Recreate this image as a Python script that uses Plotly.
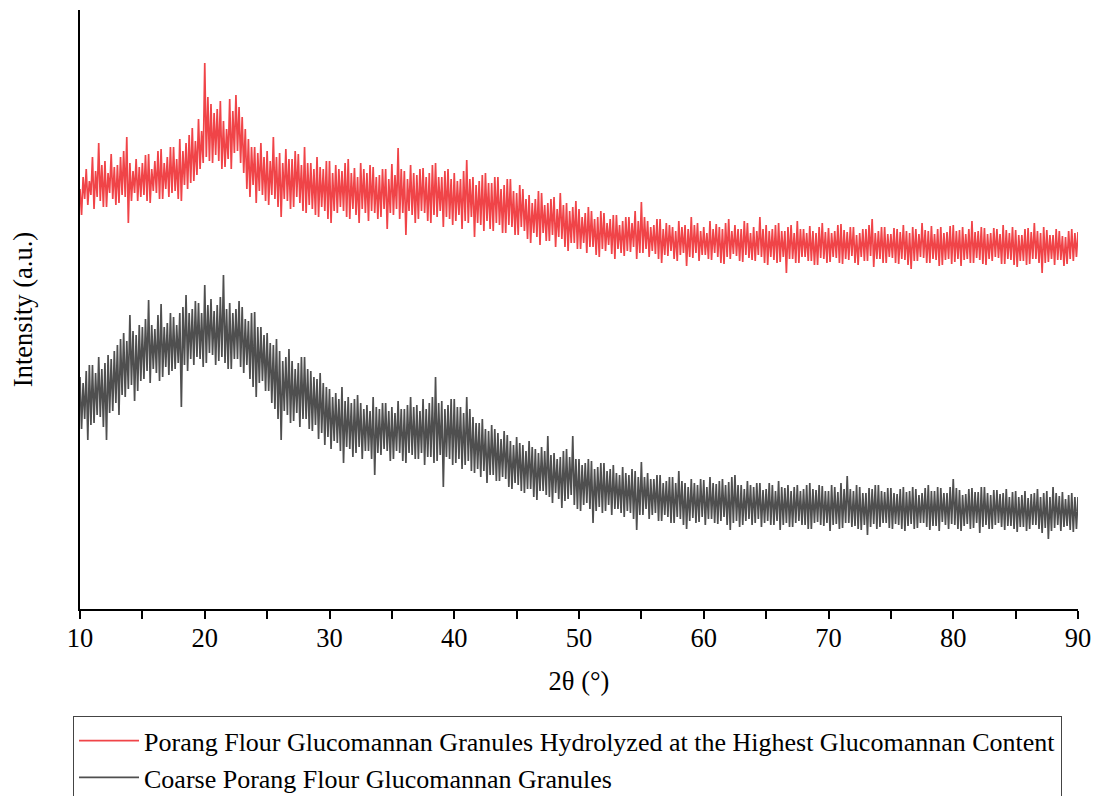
import plotly.graph_objects as go

# 2θ sampling grid (degrees), one reading bin every 0.25°
two_theta = [
    10.0, 10.25, 10.5, 10.75, 11.0, 11.25, 11.5, 11.75, 12.0, 12.25, 12.5, 12.75, 13.0, 13.25, 13.5, 13.75, 14.0, 14.25, 14.5, 14.75,
    15.0, 15.25, 15.5, 15.75, 16.0, 16.25, 16.5, 16.75, 17.0, 17.25, 17.5, 17.75, 18.0, 18.25, 18.5, 18.75, 19.0, 19.25, 19.5, 19.75,
    20.0, 20.25, 20.5, 20.75, 21.0, 21.25, 21.5, 21.75, 22.0, 22.25, 22.5, 22.75, 23.0, 23.25, 23.5, 23.75, 24.0, 24.25, 24.5, 24.75,
    25.0, 25.25, 25.5, 25.75, 26.0, 26.25, 26.5, 26.75, 27.0, 27.25, 27.5, 27.75, 28.0, 28.25, 28.5, 28.75, 29.0, 29.25, 29.5, 29.75,
    30.0, 30.25, 30.5, 30.75, 31.0, 31.25, 31.5, 31.75, 32.0, 32.25, 32.5, 32.75, 33.0, 33.25, 33.5, 33.75, 34.0, 34.25, 34.5, 34.75,
    35.0, 35.25, 35.5, 35.75, 36.0, 36.25, 36.5, 36.75, 37.0, 37.25, 37.5, 37.75, 38.0, 38.25, 38.5, 38.75, 39.0, 39.25, 39.5, 39.75,
    40.0, 40.25, 40.5, 40.75, 41.0, 41.25, 41.5, 41.75, 42.0, 42.25, 42.5, 42.75, 43.0, 43.25, 43.5, 43.75, 44.0, 44.25, 44.5, 44.75,
    45.0, 45.25, 45.5, 45.75, 46.0, 46.25, 46.5, 46.75, 47.0, 47.25, 47.5, 47.75, 48.0, 48.25, 48.5, 48.75, 49.0, 49.25, 49.5, 49.75,
    50.0, 50.25, 50.5, 50.75, 51.0, 51.25, 51.5, 51.75, 52.0, 52.25, 52.5, 52.75, 53.0, 53.25, 53.5, 53.75, 54.0, 54.25, 54.5, 54.75,
    55.0, 55.25, 55.5, 55.75, 56.0, 56.25, 56.5, 56.75, 57.0, 57.25, 57.5, 57.75, 58.0, 58.25, 58.5, 58.75, 59.0, 59.25, 59.5, 59.75,
    60.0, 60.25, 60.5, 60.75, 61.0, 61.25, 61.5, 61.75, 62.0, 62.25, 62.5, 62.75, 63.0, 63.25, 63.5, 63.75, 64.0, 64.25, 64.5, 64.75,
    65.0, 65.25, 65.5, 65.75, 66.0, 66.25, 66.5, 66.75, 67.0, 67.25, 67.5, 67.75, 68.0, 68.25, 68.5, 68.75, 69.0, 69.25, 69.5, 69.75,
    70.0, 70.25, 70.5, 70.75, 71.0, 71.25, 71.5, 71.75, 72.0, 72.25, 72.5, 72.75, 73.0, 73.25, 73.5, 73.75, 74.0, 74.25, 74.5, 74.75,
    75.0, 75.25, 75.5, 75.75, 76.0, 76.25, 76.5, 76.75, 77.0, 77.25, 77.5, 77.75, 78.0, 78.25, 78.5, 78.75, 79.0, 79.25, 79.5, 79.75,
    80.0, 80.25, 80.5, 80.75, 81.0, 81.25, 81.5, 81.75, 82.0, 82.25, 82.5, 82.75, 83.0, 83.25, 83.5, 83.75, 84.0, 84.25, 84.5, 84.75,
    85.0, 85.25, 85.5, 85.75, 86.0, 86.25, 86.5, 86.75, 87.0, 87.25, 87.5, 87.75, 88.0, 88.25, 88.5, 88.75, 89.0, 89.25, 89.5, 89.75,
    90.0,
]

# Hydrolyzed sample (red): per-bin upper / lower readings of the noisy pattern (a.u.)
hydro_hi = [
    420, 432, 440, 428, 452, 438, 466, 444, 448, 436, 455, 442, 444, 452, 458, 472, 446, 438, 450, 442,
    446, 454, 455, 440, 448, 458, 460, 446, 452, 462, 462, 450, 470, 458, 466, 474, 481, 468, 490, 478,
    546, 512, 505, 496, 500, 508, 488, 480, 510, 498, 514, 502, 492, 480, 470, 462, 462, 456, 466, 452,
    458, 448, 472, 452, 456, 446, 460, 450, 450, 458, 455, 444, 462, 446, 446, 440, 452, 442, 440, 448,
    448, 436, 444, 440, 438, 446, 450, 436, 441, 432, 446, 440, 436, 444, 442, 432, 434, 440, 440, 430,
    445, 434, 461, 440, 438, 430, 444, 436, 434, 440, 441, 432, 436, 444, 446, 432, 432, 438, 440, 430,
    436, 428, 430, 438, 449, 430, 432, 424, 428, 434, 436, 426, 426, 432, 432, 420, 424, 430, 430, 418,
    416, 424, 420, 410, 414, 406, 410, 418, 416, 404, 406, 410, 412, 400, 416, 404, 406, 398, 402, 408,
    400, 392, 396, 402, 398, 390, 392, 398, 396, 386, 390, 394, 394, 384, 388, 392, 392, 386, 398, 388,
    407, 392, 388, 382, 384, 390, 390, 380, 386, 384, 382, 378, 388, 382, 384, 380, 392, 384, 386, 378,
    382, 376, 388, 380, 385, 382, 380, 386, 390, 378, 384, 380, 380, 388, 386, 376, 382, 378, 392, 380,
    384, 378, 380, 384, 386, 378, 378, 382, 384, 376, 388, 380, 380, 376, 383, 378, 376, 382, 386, 377,
    381, 376, 378, 384, 385, 379, 377, 382, 382, 374, 376, 380, 380, 384, 390, 376, 378, 382, 382, 375,
    375, 381, 380, 377, 384, 378, 376, 382, 380, 375, 386, 379, 378, 383, 375, 380, 382, 376, 377, 383,
    384, 378, 379, 382, 375, 380, 388, 377, 378, 382, 381, 375, 376, 381, 380, 375, 384, 379, 376, 382,
    379, 374, 374, 380, 381, 377, 386, 378, 376, 382, 379, 374, 374, 380, 378, 373, 372, 378, 380, 376,
    377,
]
hydro_lo = [
    394, 410, 404, 414, 400, 412, 408, 402, 402, 416, 410, 404, 406, 414, 412, 386, 408, 416, 408, 412,
    414, 408, 406, 418, 416, 410, 410, 420, 412, 416, 418, 410, 408, 424, 420, 426, 428, 434, 440, 446,
    452, 448, 446, 454, 448, 440, 442, 450, 440, 456, 458, 446, 436, 420, 412, 424, 406, 418, 414, 408,
    404, 414, 410, 402, 392, 410, 408, 400, 402, 412, 406, 398, 396, 404, 400, 394, 392, 402, 398, 390,
    386, 398, 396, 402, 398, 392, 390, 400, 394, 386, 400, 396, 388, 398, 396, 390, 392, 400, 380, 396,
    394, 400, 390, 396, 374, 398, 394, 386, 390, 398, 396, 388, 386, 394, 392, 398, 382, 392, 390, 384,
    388, 394, 380, 388, 386, 392, 372, 386, 384, 378, 388, 380, 378, 386, 384, 376, 376, 384, 382, 374,
    374, 382, 378, 370, 366, 376, 372, 364, 376, 368, 368, 374, 362, 372, 370, 362, 358, 366, 366, 360,
    360, 366, 356, 362, 362, 354, 352, 360, 358, 364, 355, 350, 360, 356, 353, 358, 357, 362, 350, 356,
    356, 360, 352, 358, 355, 350, 346, 354, 353, 358, 350, 348, 354, 356, 343, 352, 351, 356, 348, 354,
    354, 350, 349, 356, 352, 346, 345, 352, 350, 355, 353, 348, 347, 354, 351, 349, 348, 354, 352, 346,
    344, 352, 349, 346, 347, 352, 336, 350, 350, 346, 346, 352, 352, 348, 348, 344, 344, 351, 350, 346,
    347, 352, 351, 346, 345, 350, 349, 353, 346, 344, 352, 348, 348, 353, 342, 350, 350, 346, 346, 352,
    351, 346, 345, 350, 349, 344, 340, 348, 348, 352, 351, 346, 346, 350, 349, 343, 344, 349, 350, 345,
    347, 350, 343, 349, 350, 346, 346, 351, 349, 345, 344, 350, 348, 352, 351, 345, 345, 350, 349, 344,
    342, 348, 348, 344, 345, 350, 350, 346, 336, 346, 347, 350, 344, 349, 349, 343, 345, 350, 348, 352,
    356,
]

# Coarse sample (grey): per-bin upper / lower readings of the noisy pattern (a.u.)
coarse_hi = [
    232, 226, 238, 244, 244, 236, 252, 240, 246, 254, 250, 258, 264, 270, 276, 268, 294, 278, 274, 284,
    282, 290, 309, 284, 280, 294, 305, 282, 286, 296, 292, 284, 296, 302, 314, 296, 300, 308, 306, 296,
    324, 304, 310, 298, 304, 312, 334, 300, 306, 296, 300, 308, 302, 290, 288, 296, 297, 282, 282, 274,
    276, 266, 264, 270, 258, 248, 252, 260, 248, 240, 246, 252, 252, 240, 238, 232, 230, 236, 226, 222,
    220, 212, 216, 210, 222, 208, 212, 206, 210, 214, 206, 200, 204, 198, 212, 202, 200, 206, 206, 198,
    202, 196, 208, 200, 200, 204, 212, 202, 204, 198, 210, 200, 206, 212, 232, 206, 208, 200, 204, 210,
    210, 202, 202, 196, 212, 200, 192, 186, 186, 190, 180, 178, 184, 180, 176, 170, 178, 174, 168, 164,
    172, 166, 164, 158, 168, 162, 160, 156, 162, 158, 173, 154, 156, 150, 152, 158, 160, 152, 173, 150,
    150, 144, 146, 150, 148, 140, 142, 146, 146, 138, 140, 144, 136, 134, 142, 136, 134, 140, 138, 132,
    147, 132, 136, 130, 130, 134, 134, 126, 128, 132, 132, 126, 138, 128, 126, 122, 130, 126, 124, 130,
    129, 122, 132, 126, 125, 128, 130, 124, 127, 132, 134, 124, 124, 120, 128, 124, 122, 126, 126, 119,
    120, 126, 124, 118, 128, 122, 121, 124, 118, 122, 124, 118, 120, 124, 126, 120, 119, 124, 123, 118,
    118, 124, 122, 117, 126, 120, 133, 120, 118, 124, 122, 116, 116, 121, 120, 124, 124, 118, 117, 121,
    121, 116, 115, 120, 122, 117, 118, 122, 120, 114, 116, 121, 124, 118, 118, 122, 121, 116, 116, 122,
    130, 121, 119, 114, 115, 120, 121, 117, 117, 122, 122, 116, 114, 119, 119, 115, 116, 120, 112, 117,
    118, 112, 114, 118, 111, 115, 116, 120, 112, 116, 118, 112, 122, 116, 113, 117, 110, 114, 116, 112,
    112,
]
coarse_lo = [
    180, 190, 169, 184, 186, 194, 192, 182, 169, 196, 198, 206, 194, 214, 212, 220, 224, 208, 218, 228,
    230, 238, 226, 240, 236, 228, 232, 242, 234, 238, 240, 246, 202, 244, 238, 250, 244, 252, 250, 242,
    246, 256, 254, 244, 248, 252, 246, 240, 240, 250, 250, 242, 236, 244, 230, 222, 212, 226, 228, 218,
    218, 206, 200, 190, 169, 198, 194, 186, 188, 196, 182, 190, 190, 180, 178, 184, 170, 176, 164, 172,
    160, 168, 166, 158, 146, 162, 160, 152, 156, 162, 150, 158, 158, 150, 134, 156, 154, 160, 158, 148,
    150, 158, 156, 148, 146, 156, 154, 150, 150, 156, 144, 152, 152, 146, 148, 154, 122, 152, 150, 144,
    146, 150, 140, 144, 148, 138, 136, 140, 132, 138, 126, 134, 134, 128, 128, 132, 130, 122, 120, 126,
    124, 118, 116, 120, 120, 112, 109, 118, 118, 114, 112, 106, 116, 110, 101, 108, 110, 114, 104, 100,
    98, 104, 106, 100, 86, 98, 102, 96, 98, 104, 94, 100, 100, 96, 92, 98, 96, 90, 79, 94,
    94, 100, 90, 94, 96, 88, 88, 94, 92, 86, 86, 92, 90, 84, 80, 88, 91, 86, 87, 92,
    84, 90, 90, 86, 85, 88, 92, 84, 79, 86, 88, 82, 84, 88, 90, 84, 86, 90, 82, 86,
    88, 84, 84, 88, 79, 84, 86, 82, 82, 86, 88, 84, 84, 80, 80, 86, 87, 84, 83, 86,
    78, 84, 85, 80, 81, 86, 86, 82, 83, 80, 79, 84, 74, 82, 85, 80, 82, 86, 86, 81,
    80, 85, 84, 80, 78, 83, 85, 80, 81, 86, 86, 82, 79, 83, 83, 78, 87, 84, 80, 85,
    84, 80, 78, 83, 85, 80, 81, 86, 76, 82, 84, 80, 80, 84, 86, 82, 79, 83, 83, 80,
    77, 82, 82, 78, 80, 84, 84, 80, 76, 81, 70, 78, 81, 84, 78, 82, 83, 79, 77, 80,
    82,
]

x_ticks = [10, 15, 20, 25, 30, 35, 40, 45, 50, 55, 60, 65, 70, 75, 80, 85, 90]
x_tick_text = ["10", "", "20", "", "30", "", "40", "", "50", "", "60", "", "70", "", "80", "", "90"]

series_names = [
    "Porang Flour Glucomannan Granules Hydrolyzed at the Highest Glucomannan Content",
    "Coarse Porang Flour Glucomannan Granules",
]
series_colors = ["#F04448", "#4F4F4F"]

FONT = "Liberation Serif"
FS = 26


def zigzag(xs, hi, lo):
    """Interleave the upper and lower reading of each bin into one noisy trace."""
    half = (xs[1] - xs[0]) / 2
    zx, zy = [], []
    for x, h, l in zip(xs, hi, lo):
        zx += [x, x + half]
        zy += [h, l]
    return zx, zy


fig = go.Figure()
for (hi, lo), name, color in zip(
    [(hydro_hi, hydro_lo), (coarse_hi, coarse_lo)], series_names, series_colors
):
    zx, zy = zigzag(two_theta, hi, lo)
    fig.add_trace(
        go.Scatter(
            x=zx, y=zy, mode="lines", name=name,
            line=dict(color=color, width=1.7, simplify=False),
        )
    )

fig.update_layout(
    width=1096,
    height=796,
    margin=dict(l=80, r=18, t=10, b=187, autoexpand=False),
    paper_bgcolor="white",
    plot_bgcolor="white",
    font=dict(family=FONT, size=FS, color="black"),
    showlegend=True,
    legend=dict(
        x=-0.007, xanchor="left",
        y=-0.179, yanchor="top",
        bgcolor="white",
        bordercolor="#444444",
        borderwidth=1,
        itemwidth=60,
        tracegroupgap=0,
        font=dict(family=FONT, size=FS, color="black"),
    ),
)

fig.update_xaxes(
    range=[10, 90],
    tickvals=x_ticks,
    ticktext=x_tick_text,
    ticks="outside",
    ticklen=8,
    tickwidth=2,
    tickcolor="black",
    ticklabelstandoff=-4,
    showline=True,
    linecolor="black",
    linewidth=2,
    showgrid=False,
    zeroline=False,
    tickfont=dict(family=FONT, size=26.5, color="black"),
    title=dict(text="2θ (°)", font=dict(family=FONT, size=26.5, color="black"), standoff=20),
)
fig.update_yaxes(
    range=[0, 599],
    showticklabels=False,
    ticks="",
    showline=True,
    linecolor="black",
    linewidth=2,
    showgrid=False,
    zeroline=False,
    title=dict(text="Intensity (a.u.)", font=dict(family=FONT, size=26.5, color="black"), standoff=38),
)

fig.write_html("out.html")
